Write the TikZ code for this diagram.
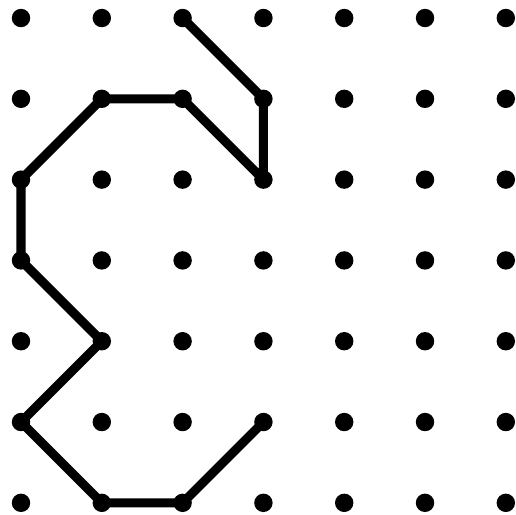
\documentclass[tikz,border=0pt]{standalone}
\usetikzlibrary{positioning}

\begin{document}
\begin{tikzpicture}[x=1cm, y=-1cm,
    gdot/.style={circle, fill=black, inner sep=0pt, minimum size=0.228cm},
    trail/.style={line width=3.2pt, line join=round, line cap=round}]
    \useasboundingbox (-0.26,-0.223) rectangle (6.126,6.139);
    % dot grid
    \foreach \i in {0,...,6} {
      \foreach \j in {0,...,6} {
        \node[gdot] (d-\i-\j) at (\i,\j) {};
      }
    }
    % the drawn figure
    \draw[trail] (d-2-0.center) -- (d-3-1.center) -- (d-3-2.center) -- (d-2-1.center)
      -- (d-1-1.center) -- (d-0-2.center) -- (d-0-3.center) -- (d-1-4.center)
      -- (d-0-5.center) -- (d-1-6.center) -- (d-2-6.center) -- (d-3-5.center);
  \end{tikzpicture}
\end{document}
